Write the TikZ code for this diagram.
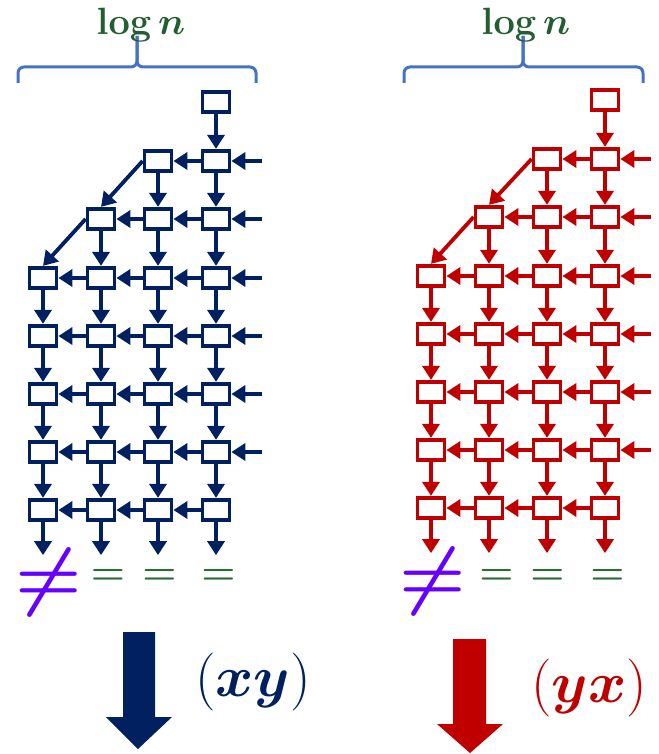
\RequirePackage{fix-cm}
\documentclass[tikz,border=0pt]{standalone}
\usepackage{amsmath,bm}
\usetikzlibrary{arrows.meta}
\definecolor{navy}{HTML}{002060}
\definecolor{dred}{HTML}{C00000}
\definecolor{lgreen}{HTML}{235E30}
\definecolor{eqgreen}{HTML}{2E6B36}
\definecolor{bracec}{HTML}{4472C4}
\definecolor{purp}{HTML}{6600FF}
\newcommand\lognlabel{$\mathbf{log}\,\bm{n}$}
\newcommand\eqglyph{$\bm{=}$}
\newcommand\neqglyph{$\bm{\neq}$}
\begin{document}
\begin{tikzpicture}[x=1pt,y=-1pt,
  cell/.style={draw, line width=3.8pt, minimum width=27pt, minimum height=20.5pt, inner sep=0pt, fill=white},
  arr/.style={line width=3.8pt, -{Triangle[length=14pt,width=17pt]}},
  bracepath/.style={draw=bracec, line width=3pt, rounded corners=6pt},
  lbl/.style={text=lgreen, anchor=base, font=\fontsize{38}{40}\selectfont},
  eqsym/.style={text=eqgreen, anchor=base, font=\fontsize{39}{42}\selectfont},
  neqsym/.style={text=purp, anchor=base, font=\fontsize{76}{80}\selectfont},
  prodlabel/.style={font=\fontsize{58}{60}\selectfont}
]
\useasboundingbox (0,0) rectangle (658,754);

\foreach \P/\cc/\xa/\xb/\xc/\xd/\dy in {L/navy/43/101/158/216/0, R/dred/431/489/547/605/-2}{
  \begin{scope}[draw=\cc, color=\cc]
  \foreach \r/\y in {1/102,2/161,3/219,4/278,5/336,6/394,7/452,8/510}{
    \foreach \c/\x in {1/\xa,2/\xb,3/\xc,4/\xd}{
      \ifnum\c>\numexpr4-\r\relax
        \node[cell] (\P\r-\c) at (\x,\y+\dy) {};
      \fi
    }
  }
  \foreach \r in {1,...,7}{
    \pgfmathtruncatemacro\rn{\r+1}
    \foreach \c in {1,2,3,4}{
      \ifnum\c>\numexpr4-\r\relax
        \draw[arr] (\P\r-\c) -- (\P\rn-\c);
      \fi
    }
  }
  \foreach \r in {2,...,8}{
    \foreach \c in {2,3,4}{
      \pgfmathtruncatemacro\cp{\c-1}
      \ifnum\cp>\numexpr4-\r\relax
        \draw[arr] (\P\r-\c) -- (\P\r-\cp);
      \fi
    }
  }
  \foreach \r in {2,...,7}{
    \path (\P\r-4.east) ++(31,0) coordinate (\P-in-\r);
    \draw[arr] (\P-in-\r) -- (\P\r-4.east);
  }
  \foreach \c in {1,2,3,4}{
    \path (\P8-\c.south) ++(0,33) coordinate (\P-out-\c);
    \draw[arr] (\P8-\c.south) -- (\P-out-\c);
  }
  \draw[arr] (\P2-3.west) -- (\P3-2.north);
  \draw[arr] (\P3-2.west) -- (\P4-1.north);
  \end{scope}
}

\coordinate (bLa) at (18,83);  \coordinate (bLb) at (256,83);  \coordinate (bLt) at (137,36);
\coordinate (bRa) at (404,83); \coordinate (bRb) at (643,83); \coordinate (bRt) at (523,36);
\draw[bracepath] (bLa) -- (18,67) -- (137,67) -- (bLt);
\draw[bracepath] (bLb) -- (256,67) -- (137,67) -- (bLt);
\draw[bracepath] (bRa) -- (404,67) -- (523,67) -- (bRt);
\draw[bracepath] (bRb) -- (643,67) -- (523,67) -- (bRt);

\node[lbl] (logL) at (141,35) {\lognlabel};
\node[lbl] (logR) at (526,35) {\lognlabel};

\node[neqsym] (neqL) at (49,601) {\neqglyph};
\node[eqsym] (eqL2) at (108,584) {\eqglyph};
\node[eqsym] (eqL3) at (159.5,584) {\eqglyph};
\node[eqsym] (eqL4) at (218.5,584) {\eqglyph};
\node[neqsym] (neqR) at (433,600) {\neqglyph};
\node[eqsym] (eqR2) at (496.5,584) {\eqglyph};
\node[eqsym] (eqR3) at (547.5,584) {\eqglyph};
\node[eqsym] (eqR4) at (607.5,584) {\eqglyph};

\fill[navy] (123,632) -- (155,632) -- (155,717) -- (172,717) -- (138,749) -- (106,717) -- (123,717) -- cycle;
\fill[dred] (453,639) -- (486,639) -- (486,724) -- (503,724) -- (470,753) -- (437,724) -- (453,724) -- cycle;

\node[prodlabel, text=navy] (xy) at (253,682) {$(\bm{xy})$};
\node[prodlabel, text=dred] (yx) at (589,688) {$(\bm{yx})$};
\end{tikzpicture}
\end{document}
